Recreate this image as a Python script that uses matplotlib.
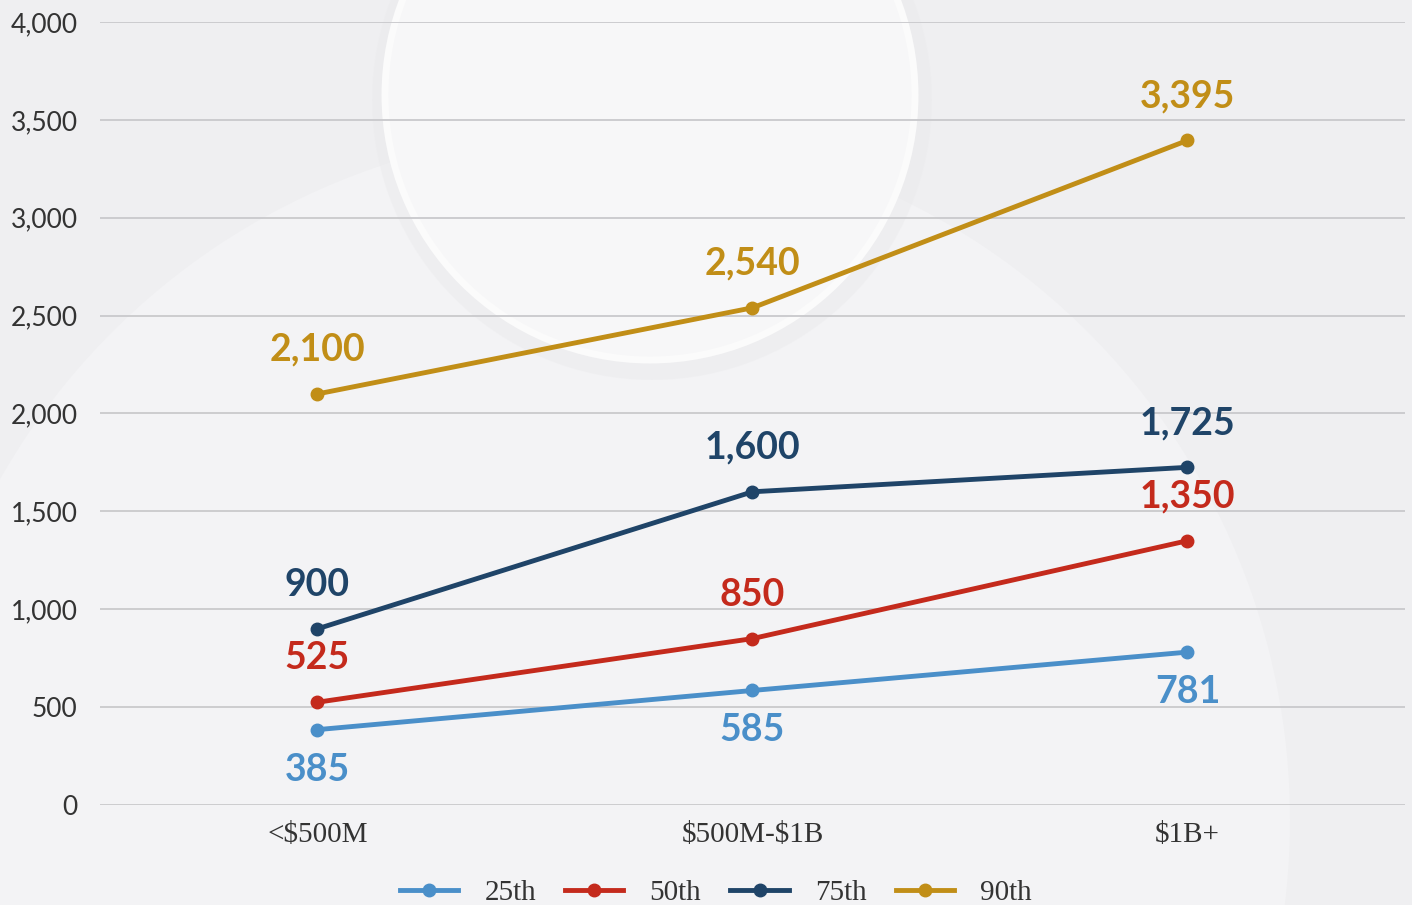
import numpy as np
import matplotlib.pyplot as plt
from matplotlib.patches import Circle

categories = ["<\\$500M", "\\$500M-\\$1B", "\\$1B+"]
p25 = [385, 585, 781]
p50 = [525, 850, 1350]
p75 = [900, 1600, 1725]
p90 = [2100, 2540, 3395]
series_names = ["25th", "50th", "75th", "90th"]

colors = ["#4a8fc9", "#c42a1c", "#1f4468", "#c18e17"]

fig = plt.figure(figsize=(14.12, 9.05), dpi=100)
fig.patch.set_facecolor("#efeff1")

# decorative background circles
bg = fig.add_axes([0, 0, 1, 1], zorder=0)
bg.set_xlim(0, 1412)
bg.set_ylim(905, 0)
bg.axis("off")
bg.add_patch(Circle((600, 820), 690, fc="#f3f3f5", ec="none"))
bg.add_patch(Circle((652, 100), 280, fc="#ebebed", ec="none", alpha=0.5))
bg.add_patch(Circle((650, 95), 265, fc="#f7f7f8", ec="#fbfbfb", lw=5))

ax = fig.add_axes([0.0708, 0.1105, 0.9242, 0.8652], zorder=1)
ax.patch.set_alpha(0)
x = np.arange(len(categories))

all_series = [p25, p50, p75, p90]
for vals, name, c in zip(all_series, series_names, colors):
    ax.plot(x, vals, "-o", color=c, lw=3.5, ms=9, label=name, zorder=3)

# value labels: 25th below, others above
for vals, c, below in zip(all_series, colors, [True, False, False, False]):
    for xi, v in zip(x, vals):
        off = -40 if below else 44
        ax.annotate(f"{v:,}", (xi, v), xytext=(0, off * 0.72), textcoords="offset points",
                    ha="center", va="center", color=c, fontsize=27,
                    fontfamily="Lato", fontweight="bold", zorder=4)

ax.set_xlim(-0.5, 2.5)
ax.set_ylim(0, 4000)
ax.set_yticks(np.arange(0, 4001, 500))
ax.yaxis.set_major_formatter(plt.FuncFormatter(lambda v, p: f"{int(v):,}"))
ax.grid(axis="y", color="#c9c9cc", lw=1.3)
ax.set_axisbelow(True)
for s in ax.spines.values():
    s.set_visible(False)
ax.tick_params(length=0)
ax.tick_params(axis="y", pad=16, labelsize=19, labelcolor="#333333")
for t in ax.get_yticklabels():
    t.set_fontfamily("Lato")
ax.set_xticks(x)
ax.set_xticklabels(categories, fontfamily="Liberation Serif", fontsize=21, color="#333333")
ax.tick_params(axis="x", pad=12)

leg = fig.legend(loc="center", bbox_to_anchor=(0.507, 0.013), ncol=4, frameon=False,
                 prop={"family": "Liberation Serif", "size": 21}, handlelength=2.0,
                 columnspacing=1.0, handletextpad=0.9, labelcolor="#333333")

fig.savefig("out.png", dpi=100, facecolor=fig.get_facecolor())
